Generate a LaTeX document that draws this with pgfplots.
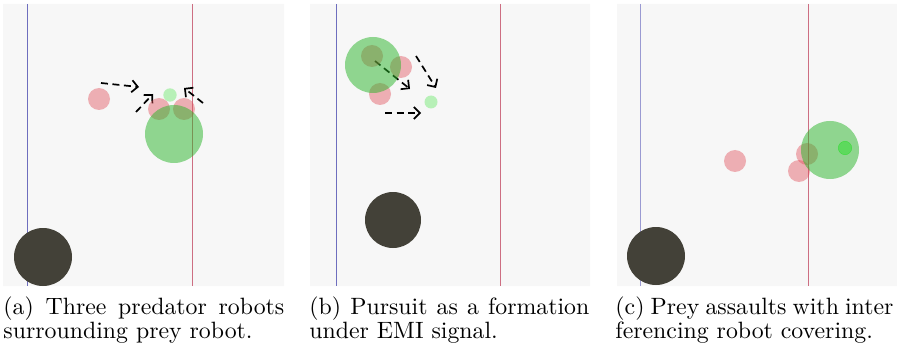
\documentclass[border=0pt]{standalone}
\usepackage{pgfplots}
\pgfplotsset{compat=1.18}
\usetikzlibrary{arrows.meta}
\definecolor{bggray}{RGB}{247,247,247}
\definecolor{darkbot}{RGB}{67,65,56}
\definecolor{predred}{RGB}{225,75,85}
\definecolor{biggreen}{RGB}{40,180,40}
\definecolor{smallgreen}{RGB}{120,235,120}
\definecolor{innergreen}{RGB}{60,220,60}
\definecolor{lineblue}{RGB}{110,110,190}
\definecolor{linered}{RGB}{205,110,130}
\tikzset{capnode/.style={anchor=base west, xscale=2.38, yscale=2.36, inner sep=0pt}}
\begin{document}
\begin{tikzpicture}
\useasboundingbox (0,0) rectangle (897pt,350pt);
\begin{axis}[x=1pt,y=1pt,xmin=0,xmax=897,ymin=0,ymax=350,y dir=reverse,
  hide axis, clip=false, at={(0,0)}, anchor=south west,
  redbot/.style={only marks, mark=*, mark size=11pt, color=predred, mark options={draw opacity=0, fill=predred, fill opacity=0.42}},
  greenbig/.style={only marks, mark=*, mark size=29pt, color=biggreen, mark options={draw opacity=0, fill=biggreen, fill opacity=0.5}},
  greensmall/.style={only marks, mark=*, mark size=6.7pt, color=smallgreen, mark options={draw opacity=0, fill=smallgreen, fill opacity=0.5}},
  darkb/.style={only marks, mark=*, mark size=29pt, color=darkbot, mark options={draw opacity=0, fill=darkbot}},
  arr/.style={black, line width=1.7pt, dash pattern=on 7pt off 4.5pt, -{Straight Barb[length=6pt,width=12pt]}},
]
% arenas
\addplot[fill=bggray, draw=none] coordinates {(3,4) (284,4) (284,286) (3,286) (3,4)};
\addplot[fill=bggray, draw=none] coordinates {(310,4) (590,4) (590,286) (310,286) (310,4)};
\addplot[fill=bggray, draw=none] coordinates {(617,4) (897,4) (897,286) (617,286) (617,4)};
% ---- panel (a)
\addplot[redbot] coordinates {(99,99) (159,109) (184,109)};
\addplot[greenbig] coordinates {(174,134)};
\addplot[greensmall] coordinates {(170,95)};
\addplot[darkb] coordinates {(43,257)};
% ---- panel (b)
\addplot[redbot] coordinates {(372,56) (401,67) (380,94)};
\addplot[greenbig, mark size=28pt] coordinates {(373,65)};
\addplot[greensmall, mark size=6.5pt] coordinates {(431,102)};
\addplot[darkb, mark size=28pt] coordinates {(393,220)};
% ---- panel (c)
\addplot[redbot] coordinates {(735,161) (807,154) (799,171)};
\addplot[greenbig] coordinates {(830,150)};
\addplot[greensmall, color=innergreen, mark options={fill=innergreen, fill opacity=0.6}] coordinates {(845,148)};
\addplot[darkb] coordinates {(656,256)};
% vertical lines
\addplot[lineblue, line width=0.8pt] coordinates {(27,4) (27,286)};
\addplot[linered, line width=0.8pt] coordinates {(192,4) (192,286)};
\addplot[lineblue, line width=0.8pt] coordinates {(336,4) (336,286)};
\addplot[linered, line width=0.8pt] coordinates {(500,4) (500,286)};
\addplot[lineblue!70, line width=0.8pt] coordinates {(640,4) (640,286)};
\addplot[linered, line width=0.8pt] coordinates {(808,4) (808,286)};
% arrows
\addplot[arr] coordinates {(101,83) (139,87)};
\addplot[arr] coordinates {(136,112) (153,94)};
\addplot[arr] coordinates {(203,103) (184,88)};
\addplot[arr] coordinates {(375,61) (410,89)};
\addplot[arr] coordinates {(416,56) (436,88)};
\addplot[arr] coordinates {(385,113) (421,113)};
% captions
\node[capnode] at (axis cs:3,314) {\makebox[118pt][s]{(a) Three predator robots}};
\node[capnode] at (axis cs:3,338) {surrounding prey robot.};
\node[capnode] at (axis cs:309,314) {\makebox[117.6pt][s]{(b) Pursuit as a formation}};
\node[capnode] at (axis cs:309,338) {under EMI signal.};
\node[capnode] at (axis cs:615,314) {\makebox[116.8pt][s]{(c) Prey assaults with inter}};
\node[capnode] at (axis cs:615,338) {ferencing robot covering.};
\end{axis}
\end{tikzpicture}
\end{document}
